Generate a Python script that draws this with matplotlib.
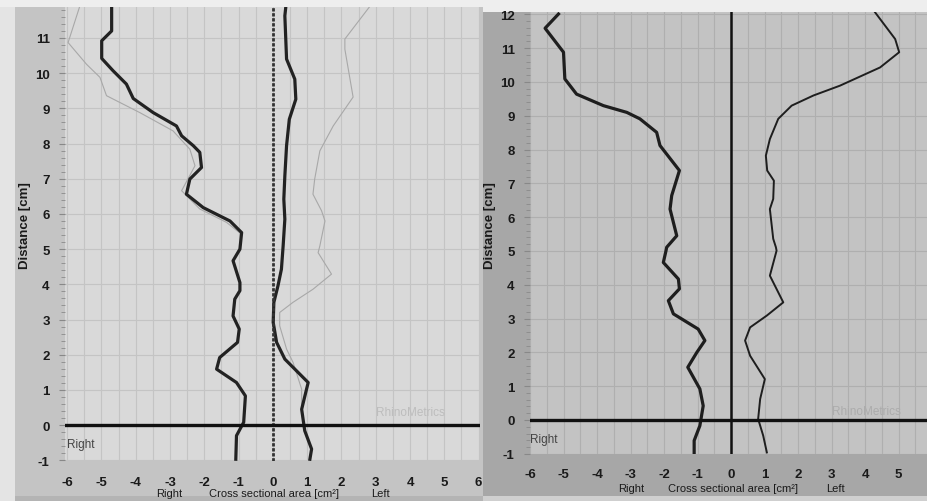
import numpy as np
import matplotlib
matplotlib.use("Agg")
import matplotlib.pyplot as plt
from matplotlib.patches import Rectangle

plt.rcParams['font.family'] = ['Liberation Sans', 'DejaVu Sans']
plt.rcParams['axes.unicode_minus'] = False

W, H = 928, 502

# ---- data (x = cross sectional area cm2, y = distance cm)
# left scan, right nostril (thick, drawn at negative x)
l_right_x = [-4.70, -4.70, -4.99, -4.99, -4.66, -4.27, -4.07, -3.49, -2.81, -2.66, -2.32, -2.13,
             -2.08, -2.42, -2.52, -2.03, -1.25, -0.91, -0.96, -1.16, -0.96, -0.96, -1.11, -1.16,
             -0.98, -1.03, -1.55, -1.64, -1.06, -0.80, -0.85, -1.06, -1.08]
l_right_y = [11.9, 11.2, 10.92, 10.42, 10.07, 9.69, 9.28, 8.88, 8.5, 8.22, 7.94, 7.75,
             7.32, 6.99, 6.56, 6.18, 5.80, 5.47, 5.0, 4.67, 4.05, 3.82, 3.58, 3.1,
             2.73, 2.35, 1.92, 1.59, 1.21, 0.83, 0.08, -0.3, -0.97]
# left scan, left nostril (thick)
l_left_x = [0.38, 0.35, 0.40, 0.64, 0.67, 0.48, 0.40, 0.35, 0.32, 0.35, 0.30, 0.25, 0.15,
            0.03, 0.01, 0.11, 0.35, 1.03, 0.84, 0.93, 1.13, 1.08]
l_left_y = [11.9, 11.63, 10.4, 9.83, 9.26, 8.69, 7.94, 7.08, 6.42, 5.85, 5.09, 4.43, 3.96,
            3.49, 2.92, 2.35, 1.875, 1.21, 0.45, -0.16, -0.68, -0.97]
# left scan, thin grey curves
l_right2_x = [-5.63, -5.97, -5.43, -5.04, -4.85, -3.88, -2.91, -2.42, -2.27, -2.66, -2.13, -1.35, -0.95]
l_right2_y = [11.9, 10.87, 10.25, 9.88, 9.36, 8.88, 8.36, 7.84, 7.37, 6.66, 6.14, 5.76, 5.45]
l_left2_x = [2.83, 2.10, 2.10, 2.34, 1.76, 1.37, 1.22, 1.17, 1.42, 1.52, 1.37, 1.32, 1.71,
             1.17, 0.59, 0.20, 0.20, 0.40, 0.59, 0.84, 0.84, 0.88]
l_left2_y = [11.9, 10.97, 10.68, 9.32, 8.5, 7.79, 6.99, 6.56, 6.09, 5.80, 5.09, 4.9, 4.29,
             3.86, 3.49, 3.2, 2.82, 2.16, 1.78, 1.02, 0.45, 0.1]

# right scan
r_right_x = [-5.15, -5.55, -5.0, -4.96, -4.61, -3.81, -3.11, -2.72, -2.22, -2.12, -1.54, -1.77,
             -1.82, -1.62, -1.92, -1.94, -2.02, -1.57, -1.54, -1.87, -1.72, -0.98, -0.78, -1.02,
             -1.29, -0.93, -0.83, -0.93, -1.10, -1.10]
r_right_y = [12.01, 11.59, 10.88, 10.09, 9.64, 9.30, 9.10, 8.91, 8.51, 8.12, 7.38, 6.64,
             6.24, 5.45, 5.11, 5.01, 4.66, 4.17, 3.88, 3.53, 3.14, 2.69, 2.35, 2.0,
             1.56, 0.92, 0.42, -0.17, -0.61, -0.96]
r_left_x = [4.30, 4.90, 5.02, 4.45, 3.25, 2.46, 1.81, 1.41, 1.16, 1.04, 1.08, 1.28, 1.26, 1.16,
            1.26, 1.34, 1.36, 1.16, 1.56, 1.07, 0.57, 0.42, 0.57, 1.01, 0.87, 0.81, 0.96, 1.07]
r_left_y = [12.06, 11.27, 10.88, 10.43, 9.89, 9.60, 9.30, 8.91, 8.31, 7.82, 7.38, 7.08, 6.54, 6.24,
            5.36, 5.11, 5.01, 4.27, 3.48, 3.09, 2.74, 2.35, 1.90, 1.21, 0.62, 0.03, -0.46, -0.96]

l_xticks = list(range(-6, 7))
r_xticks = list(range(-6, 6))
l_yticks = list(range(-1, 12))
r_yticks = list(range(-1, 13))


def fx(px):
    return px / W


def fy(py):
    return 1 - py / H


fig = plt.figure(figsize=(W / 100, H / 100), dpi=100, facecolor="#eeeeee")


def band(x0, y0, x1, y1, color):
    fig.add_artist(Rectangle((fx(x0), fy(y1)), fx(x1) - fx(x0), fy(y0) - fy(y1),
                             transform=fig.transFigure, color=color, zorder=0, lw=0))


# paper backgrounds
band(0, 8, 15, 502, "#e4e4e4")
band(15, 8, 483, 497, "#c4c4c4")
band(15, 497, 483, 502, "#b4b4b4")
band(483, 13, 928, 497, "#a7a7a7")
band(483, 497, 928, 502, "#cfcfcf")

ax1 = fig.add_axes([fx(65), fy(462), fx(480) - fx(65), fy(8) - fy(462)])
ax2 = fig.add_axes([fx(530), fy(455), fx(928) - fx(530), fy(13) - fy(455)])


def style(ax, xlim, ylim, xticks, yticks, bg, grid, xpad, ypad):
    ax.set_facecolor(bg)
    ax.set_xlim(*xlim)
    ax.set_ylim(*ylim)
    for s in ax.spines.values():
        s.set_visible(False)
    for v in np.arange(-6, 6.01, 0.5):
        ax.axvline(v, color=grid, lw=0.8, zorder=1)
    for h in yticks:
        ax.axhline(h, color=grid, lw=0.8, zorder=1)
    ax.set_xticks(xticks)
    ax.set_yticks(yticks)
    ax.set_yticks(np.arange(-1, ylim[1], 0.2), minor=True)
    ax.tick_params(axis="x", length=0, pad=xpad, labelsize=9.5, colors="#1a1a1a")
    ax.tick_params(axis="y", which="major", length=4, width=0.8, color="#888888",
                   pad=ypad, labelsize=9.5, labelcolor="#1a1a1a")
    ax.tick_params(axis="y", which="minor", length=3, width=0.6, color="#8a8a8a")
    for lab in ax.get_xticklabels() + ax.get_yticklabels():
        lab.set_fontweight("bold")


style(ax1, (-6.06, 6.04), (-1.02, 11.88), l_xticks, l_yticks, "#d9d9d9", "#c4c4c4", 11, 7)
style(ax2, (-6.0, 5.88), (-1.006, 12.07), r_xticks, r_yticks, "#c3c3c3", "#afafaf", 10, 7)

# left scan curves
ax1.plot(l_right2_x, l_right2_y, color="#a8a8a8", lw=0.8, zorder=3)
ax1.plot(l_left2_x, l_left2_y, color="#a8a8a8", lw=0.8, zorder=3)
ax1.plot(l_right_x, l_right_y, color="#222222", lw=2.3, zorder=4)
ax1.plot(l_left_x, l_left_y, color="#222222", lw=2.3, zorder=4)
ax1.axvline(0, color="#333333", lw=2.0, ls=(0, (1.2, 0.6)), zorder=4)
ax1.axhline(0, color="#111111", lw=2.4, zorder=5)

# right scan curves
ax2.plot(r_right_x, r_right_y, color="#1e1e1e", lw=2.3, zorder=4)
ax2.plot(r_left_x, r_left_y, color="#1e1e1e", lw=1.4, zorder=4)
ax2.axvline(0, color="#111111", lw=1.8, zorder=4)
ax2.axhline(0, color="#111111", lw=2.4, zorder=5)

for ax in (ax1, ax2):
    ax.text(-6.0, -0.55, "Right", fontsize=8.5, color="#444444", va="center", ha="left", zorder=6)
ax1.text(3.0, 0.37, "RhinoMetrics", fontsize=8.5, color="#bdbdbd", va="center", zorder=2)
ax2.text(3.02, 0.27, "RhinoMetrics", fontsize=8.5, color="#acacac", va="center", zorder=2)

# axis captions printed on the paper
fig.text(fx(25), fy(226), "Distance [cm]", rotation=90, ha="center", va="center",
         fontsize=9.5, fontweight="bold", color="#1a1a1a")
fig.text(fx(490), fy(226), "Distance [cm]", rotation=90, ha="center", va="center",
         fontsize=9.5, fontweight="bold", color="#1a1a1a")
for (xr, xc, xl, yy) in [(169, 274, 380, 494), (631, 733, 835, 489)]:
    fig.text(fx(xr), fy(yy), "Right", ha="center", va="center", fontsize=8, color="#1a1a1a")
    fig.text(fx(xc), fy(yy), "Cross sectional area [cm\u00b2]", ha="center", va="center",
             fontsize=8, color="#1a1a1a")
    fig.text(fx(xl), fy(yy), "Left", ha="center", va="center", fontsize=8, color="#1a1a1a")

fig.savefig("out.png", dpi=100, facecolor=fig.get_facecolor())
